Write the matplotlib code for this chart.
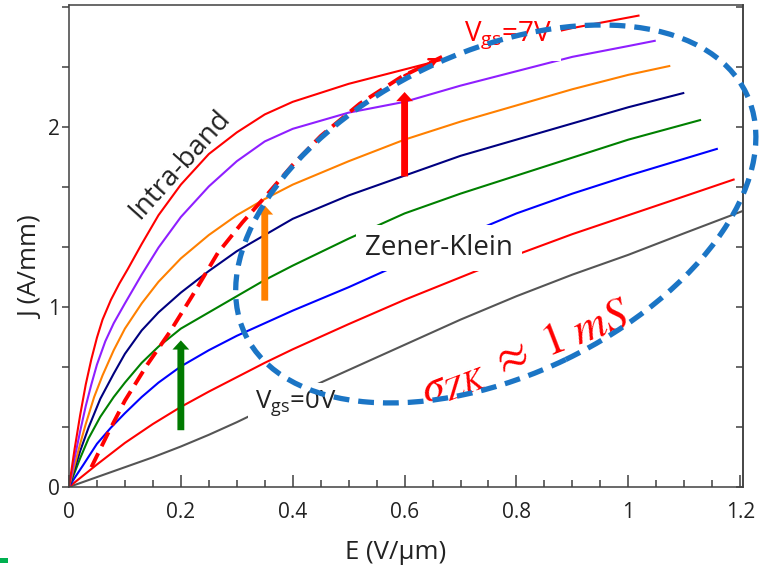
"""
J-E curves of a graphene FET for Vgs = 0..7 V, with the Zener-Klein
region marked by a dashed ellipse.  Saves out.png (769x568).
"""

import matplotlib.pyplot as plt
from matplotlib.patches import Ellipse, FancyArrowPatch, Rectangle
from matplotlib.transforms import ScaledTranslation

# ---------------------------------------------------------------------------
# Data
# ---------------------------------------------------------------------------
E_7V = [0, 0.01, 0.02, 0.03, 0.04, 0.05, 0.06, 0.075, 0.09, 0.105, 0.13, 0.16, 0.20,
        0.25, 0.30, 0.35, 0.40, 0.50, 0.60, 0.70, 0.80, 0.90, 1.02]
J_7V = [0, 0.21, 0.40, 0.57, 0.71, 0.83, 0.93, 1.04, 1.13, 1.21, 1.35, 1.51, 1.68,
        1.85, 1.97, 2.07, 2.14, 2.24, 2.32, 2.40, 2.48, 2.55, 2.62]

E_6V = [0, 0.01, 0.02, 0.03, 0.04, 0.05, 0.065, 0.08, 0.10, 0.13, 0.16, 0.20, 0.25,
        0.30, 0.35, 0.40, 0.50, 0.60, 0.70, 0.80, 0.90, 1.00, 1.049]
J_6V = [0, 0.16, 0.31, 0.45, 0.57, 0.68, 0.81, 0.91, 1.02, 1.18, 1.33, 1.50, 1.67,
        1.81, 1.92, 1.99, 2.08, 2.14, 2.23, 2.31, 2.39, 2.45, 2.48]

E_5V = [0, 0.01, 0.02, 0.03, 0.045, 0.06, 0.08, 0.10, 0.13, 0.16, 0.20, 0.25, 0.30,
        0.35, 0.40, 0.50, 0.60, 0.70, 0.80, 0.90, 1.00, 1.075]
J_5V = [0, 0.12, 0.24, 0.35, 0.50, 0.62, 0.76, 0.88, 1.02, 1.14, 1.27, 1.40, 1.51,
        1.60, 1.68, 1.81, 1.93, 2.03, 2.12, 2.21, 2.29, 2.34]

E_4V = [0, 0.01, 0.02, 0.035, 0.056, 0.08, 0.10, 0.13, 0.16, 0.20, 0.25, 0.30, 0.35,
        0.40, 0.50, 0.60, 0.70, 0.80, 0.90, 1.00, 1.10]
J_4V = [0, 0.10, 0.20, 0.33, 0.49, 0.63, 0.74, 0.87, 0.97, 1.08, 1.20, 1.31, 1.40,
        1.49, 1.62, 1.73, 1.84, 1.93, 2.02, 2.11, 2.19]

E_3V = [0, 0.01, 0.02, 0.035, 0.056, 0.08, 0.10, 0.13, 0.16, 0.20, 0.25, 0.30, 0.35,
        0.40, 0.50, 0.60, 0.70, 0.80, 0.90, 1.00, 1.13]
J_3V = [0, 0.08, 0.16, 0.27, 0.39, 0.50, 0.58, 0.69, 0.78, 0.88, 0.97, 1.06, 1.15,
        1.23, 1.38, 1.52, 1.63, 1.73, 1.83, 1.93, 2.04]

E_2V = [0, 0.01, 0.025, 0.05, 0.075, 0.10, 0.13, 0.16, 0.20, 0.25, 0.30, 0.35, 0.40,
        0.50, 0.60, 0.70, 0.80, 0.90, 1.00, 1.16]
J_2V = [0, 0.05, 0.12, 0.24, 0.33, 0.41, 0.50, 0.58, 0.67, 0.76, 0.84, 0.91, 0.98,
        1.11, 1.25, 1.39, 1.52, 1.63, 1.73, 1.88]

E_1V = [0, 0.05, 0.10, 0.15, 0.20, 0.25, 0.30, 0.35, 0.40, 0.50, 0.60, 0.70, 0.80,
        0.90, 1.00, 1.10, 1.19]
J_1V = [0, 0.125, 0.245, 0.35, 0.445, 0.53, 0.61, 0.69, 0.765, 0.905, 1.04, 1.165,
        1.29, 1.405, 1.51, 1.615, 1.71]

E_0V = [0, 0.05, 0.10, 0.15, 0.20, 0.25, 0.30, 0.35, 0.40, 0.50, 0.60, 0.70, 0.80,
        0.90, 1.00, 1.10, 1.21]
J_0V = [0, 0.055, 0.11, 0.165, 0.225, 0.29, 0.36, 0.435, 0.51, 0.65, 0.79, 0.93,
        1.06, 1.18, 1.29, 1.41, 1.54]

# saturation locus (red dashed)
E_SAT = [0.04, 0.07, 0.10, 0.14, 0.18, 0.22, 0.266, 0.31, 0.35, 0.40, 0.45, 0.52, 0.595, 0.667]
J_SAT = [0.11, 0.30, 0.48, 0.68, 0.86, 1.06, 1.30, 1.47, 1.61, 1.79, 1.95, 2.13, 2.28, 2.39]

# vertical arrows: (E, J_start, J_end)
ARROWS = [(0.20, 0.30, 0.83), (0.35, 1.02, 1.58), (0.60, 1.71, 2.21)]

X_TICKS = [0, 0.2, 0.4, 0.6, 0.8, 1.0, 1.2]
X_TICK_LABELS = ["0", "0.2", "0.4", "0.6", "0.8", "1", "1.2"]
Y_TICKS = [0, 1, 2]
Y_TICK_LABELS = ["0", "1", "2"]

# ---------------------------------------------------------------------------
# Style
# ---------------------------------------------------------------------------
plt.rcParams["font.family"] = ["Open Sans", "DejaVu Sans"]
plt.rcParams["mathtext.fontset"] = "custom"
plt.rcParams["mathtext.rm"] = "Open Sans"
SPINE = "#404040"
TEXT = "#222222"

CURVES = [
    (E_0V, J_0V, "#555555"),
    (E_1V, J_1V, "#ff0000"),
    (E_2V, J_2V, "#0000ff"),
    (E_3V, J_3V, "#008000"),
    (E_4V, J_4V, "#000080"),
    (E_5V, J_5V, "#ff8000"),
    (E_6V, J_6V, "#8f1fff"),
    (E_7V, J_7V, "#ff0000"),
]
ARROW_COLORS = ["#007a00", "#ff8000", "#ff0000"]

fig = plt.figure(figsize=(7.69, 5.68), dpi=100)
ax = fig.add_axes([0.0897, 0.1426, 0.8765, 0.8486])

for e, j, c in CURVES:
    ax.plot(e, j, color=c, lw=1.5, zorder=2, solid_capstyle="butt",
            solid_joinstyle="round")

# saturation locus
ax.plot(E_SAT, J_SAT, color="#ff0000", lw=2.8, dashes=(4, 2), zorder=6)
ax.annotate("", xy=(E_SAT[-1], J_SAT[-1]), xytext=(E_SAT[-2], J_SAT[-2]),
            arrowprops=dict(arrowstyle="->", color="#ff0000", lw=1.8,
                            mutation_scale=14), zorder=6)

for (e, j0, j1), c in zip(ARROWS, ARROW_COLORS):
    ax.add_patch(FancyArrowPatch(
        (e, j0), (e, j1),
        arrowstyle="simple,head_width=1.1,head_length=0.6,tail_width=0.45",
        mutation_scale=11, color=c, lw=0, zorder=7))

# labels with white boxes that hide the curves behind them
ax.text(0.662, 1.33, "Zener-Klein", fontsize=20, color=TEXT, ha="center",
        va="center", zorder=4,
        bbox=dict(boxstyle="square,pad=0.32", fc="white", ec="none"))
ax.text(0.405, 0.46, r"V$_{\mathregular{gs}}$=0V", fontsize=18.5, color=TEXT,
        ha="center", va="center", zorder=4,
        bbox=dict(boxstyle="square,pad=0.25", fc="white", ec="none"))
ax.text(0.784, 2.51, r"V$_{\mathregular{gs}}$=7V", fontsize=20,
        color="#ff0000", ha="center", va="center", zorder=4,
        bbox=dict(boxstyle="square,pad=0.35", fc="white", ec="none"))
ax.text(0.198, 1.79, "Intra-band", fontsize=20, color=TEXT, rotation=48,
        ha="center", va="center", rotation_mode="anchor", zorder=4)
ax.text(0.815, 0.745, r"$\sigma_{ZK}\ \approx\ 1\;mS$", fontsize=33,
        color="#ff0000", ha="center", va="center", rotation=21,
        rotation_mode="anchor", math_fontfamily="stix", zorder=5)

# Zener-Klein ellipse, sized in inches around a data-space centre
ell = Ellipse((0, 0), width=5.56, height=3.23, angle=25.7, fill=False,
              ec="#1b75c5", lw=3.8, linestyle=(0, (3.0, 1.7)), zorder=8,
              transform=fig.dpi_scale_trans + ScaledTranslation(0.763, 1.517, ax.transData),
              clip_on=False)
ax.add_patch(ell)

# axes
ax.set_xlim(0, 1.205)
ax.set_ylim(0, 2.678)
ax.set_xticks(X_TICKS)
ax.set_xticklabels(X_TICK_LABELS)
ax.set_xticks([i * 0.05 for i in range(25)], minor=True)
ax.set_yticks(Y_TICKS)
ax.set_yticklabels(Y_TICK_LABELS)
ax.set_yticks([i / 3 for i in range(9)], minor=True)
ax.tick_params(axis="x", which="major", direction="in", length=8.5, width=1.1,
               color=SPINE, labelsize=15, labelcolor=TEXT, pad=11)
ax.tick_params(axis="x", which="minor", direction="in", length=5, width=1.1,
               color=SPINE)
ax.tick_params(axis="y", which="both", direction="out", length=5, width=1.1,
               color=SPINE, labelsize=15, labelcolor=TEXT, pad=1.5)
for s in ax.spines.values():
    s.set_color(SPINE)
    s.set_linewidth(1.1)

sec = ax.secondary_yaxis("right")
sec.set_yticks([i / 3 for i in range(9)])
sec.set_yticklabels([])
sec.tick_params(direction="in", length=5, width=1.1, color=SPINE)
sec.spines["right"].set_color(SPINE)
sec.spines["right"].set_linewidth(1.1)

ax.set_xlabel("E (V/\u00b5m)", fontsize=18.5, color=TEXT, va="baseline")
ax.set_ylabel("J (A/mm)", fontsize=18.5, color=TEXT)
ax.xaxis.set_label_coords(0.484, -0.149)
ax.yaxis.set_label_coords(-0.037, 0.456)

# small green mark in the bottom-left corner
fig.patches.append(Rectangle((0, 0.0088), 0.0104, 0.0088, transform=fig.transFigure,
                             fc="#00b050", ec="none"))

plt.savefig("out.png", dpi=100)
